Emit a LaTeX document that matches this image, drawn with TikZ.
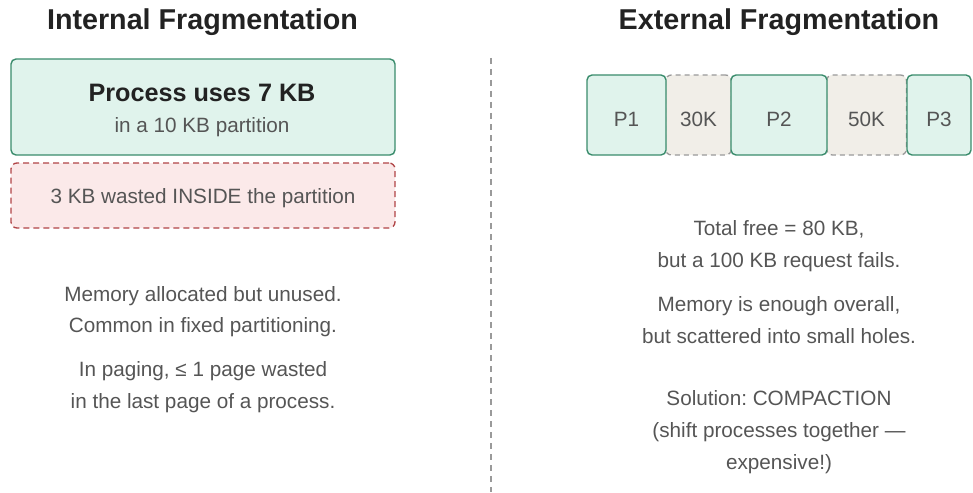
\documentclass[tikz,border=0pt]{standalone}
\usepackage{fontspec}
\setmainfont{Liberation Sans}
\frenchspacing
\definecolor{titlec}{HTML}{222222}
\definecolor{txtc}{HTML}{555555}
\definecolor{gfill}{HTML}{E0F3EC}
\definecolor{gdraw}{HTML}{3A8C6C}
\definecolor{rfill}{HTML}{FBE9E9}
\definecolor{rdraw}{HTML}{B04446}
\definecolor{hfill}{HTML}{F1EEE8}
\definecolor{hdraw}{HTML}{9A9A9A}
\definecolor{divc}{HTML}{9A9A9A}
\tikzset{
  x=1pt, y=-1pt,
  titletext/.style={anchor=base, text=titlec, font=\fontsize{28.7}{30}\selectfont\bfseries, inner sep=0},
  bodytext/.style={anchor=base, text=txtc, font=\fontsize{20.7}{24}\selectfont, inner sep=0},
  boldtext/.style={anchor=base, text=titlec, font=\fontsize{25.2}{28}\selectfont\bfseries, inner sep=0},
  procbox/.style={draw=gdraw, fill=gfill, line width=1.4pt, rounded corners=5pt, inner sep=0},
  wastebox/.style={draw=rdraw, fill=rfill, line width=1.3pt, rounded corners=6pt, dash pattern=on 6pt off 4pt, inner sep=0},
  holebox/.style={draw=hdraw, fill=hfill, line width=1.3pt, rounded corners=6pt, dash pattern=on 5pt off 4pt, inner sep=0},
}
\begin{document}
\begin{tikzpicture}
\useasboundingbox (0,0) rectangle (973,492);
% titles
\node[titletext] (tl) at (202.5,29.5) {Internal Fragmentation};
\node[titletext] (tr) at (779,29.5) {External Fragmentation};
% divider
\coordinate (dtop) at (491,58);
\coordinate (dbot) at (491,492);
\draw[divc, line width=1.3pt, dash pattern=on 6pt off 5pt] (dtop) -- (dbot);
% left boxes
\node[procbox, minimum width=384pt, minimum height=96pt] (pbox) at (203,107) {};
\node[boldtext] (ptitle) at (202,101.5) {Process uses 7 KB};
\node[bodytext] (psub) at (202,132) {in a 10 KB partition};
\node[wastebox, minimum width=384pt, minimum height=65pt] (wbox) at (203,195.5) {};
\node[bodytext] (wtext) at (203,203) {3 KB wasted INSIDE the partition};
% left text
\node[bodytext] (l1) at (203,301) {Memory allocated but unused.};
\node[bodytext] (l2) at (203,332.5) {Common in fixed partitioning.};
\node[bodytext] (l3) at (203,376.5) {In paging, ≤ 1 page wasted};
\node[bodytext] (l4) at (203,408) {in the last page of a process.};
% right memory strip
\node[holebox, minimum width=66pt, minimum height=80pt] (g1) at (698.5,115) {};
\node[holebox, minimum width=80pt, minimum height=80pt] (g2) at (866.5,115) {};
\node[procbox, minimum width=79pt, minimum height=80pt] (p1) at (626.5,115) {};
\node[procbox, minimum width=96pt, minimum height=80pt] (p2) at (779,115) {};
\node[procbox, minimum width=64pt, minimum height=80pt] (p3) at (939,115) {};
\node[bodytext] (p1t) at (626.5,126.5) {P1};
\node[bodytext] (g1t) at (698.5,126.5) {30K};
\node[bodytext] (p2t) at (779,126.5) {P2};
\node[bodytext] (g2t) at (866.5,126.5) {50K};
\node[bodytext] (p3t) at (939,126.5) {P3};
% right text
\node[bodytext] (r1) at (779,235) {Total free = 80 KB,};
\node[bodytext] (r2) at (779,267) {but a 100 KB request fails.};
\node[bodytext] (r3) at (779,311) {Memory is enough overall,};
\node[bodytext] (r4) at (779,343) {but scattered into small holes.};
\node[bodytext] (r5) at (779,405) {Solution: COMPACTION};
\node[bodytext] (r6) at (779,437) {(shift processes together —};
\node[bodytext] (r7) at (779,469) {expensive!)};
\end{tikzpicture}
\end{document}
